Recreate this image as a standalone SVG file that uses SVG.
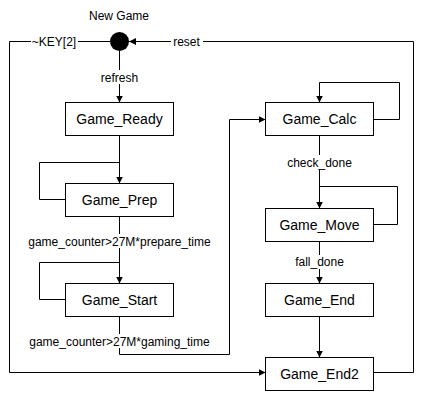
<svg xmlns="http://www.w3.org/2000/svg" width="423" height="402" viewBox="0 0 423 402">
<style>
.box{fill:#fff;stroke:#000;stroke-width:1}
.bl{font-family:"Liberation Sans",Arial,sans-serif;font-size:14px;fill:#000;text-anchor:middle}
.el{font-family:"Liberation Sans",Arial,sans-serif;font-size:12px;fill:#000;text-anchor:middle}
.e{fill:none;stroke:#000;stroke-width:1}
.lb{fill:#fff}
</style>
<defs>
<marker id="ah" viewBox="0 0 8 8" refX="7" refY="4" markerWidth="8" markerHeight="8" markerUnits="userSpaceOnUse" orient="auto">
<path d="M0,0.5 L7,4 L0,7.5 Z" fill="#000"/>
</marker>
</defs>
<rect width="423" height="402" fill="#fff"/>
<g id="connectors">
<path class="e" d="M119.5,51 V102.5" marker-end="url(#ah)"/>
<path class="e" d="M110,41.5 H9.5 V372.5 H265.5" marker-end="url(#ah)"/>
<path class="e" d="M373.5,372.5 H413.5 V41.5 H129" marker-end="url(#ah)"/>
<path class="e" d="M119.5,135.5 V183.5" marker-end="url(#ah)"/>
<path class="e" d="M65.5,199.5 H39.5 V162.5 H119.5"/>
<path class="e" d="M119.5,216.5 V283.5" marker-end="url(#ah)"/>
<path class="e" d="M65.5,299.5 H39.5 V262.5 H119.5"/>
<path class="e" d="M119.5,316.5 V354.5 H229.5 V119.5 H265.5" marker-end="url(#ah)"/>
<path class="e" d="M373.5,119.5 H399.5 V82.5 H319.5 V102.5" marker-end="url(#ah)"/>
<path class="e" d="M319.5,135.5 V208.5" marker-end="url(#ah)"/>
<path class="e" d="M373.5,224.5 H397.5 V186.5 H319.5"/>
<path class="e" d="M319.5,241.5 V283.5" marker-end="url(#ah)"/>
<path class="e" d="M319.5,316.5 V357.5" marker-end="url(#ah)"/>
<rect class="lb" x="96" y="70" width="48" height="14"/>
<text class="el" x="119.5" y="81.5">refresh</text>
<rect class="lb" x="31" y="35" width="47" height="14"/>
<text class="el" x="54" y="46">~KEY[2]</text>
<rect class="lb" x="171" y="35" width="32" height="14"/>
<text class="el" x="186.5" y="46">reset</text>
<rect class="lb" x="24" y="234" width="192" height="14"/>
<text class="el" x="119.5" y="245.5">game_counter&gt;27M*prepare_time</text>
<rect class="lb" x="24" y="334" width="192" height="14"/>
<text class="el" x="119.5" y="345.5">game_counter&gt;27M*gaming_time</text>
<rect class="lb" x="283" y="155" width="73" height="14"/>
<text class="el" x="319.5" y="166.5">check_done</text>
<rect class="lb" x="290" y="255" width="59" height="14"/>
<text class="el" x="319.5" y="266">fall_done</text>
</g>
<g id="start">
<text class="el" x="119" y="19.5">New Game</text>
<circle cx="119.5" cy="41.5" r="9.5" fill="#000"/>
</g>
<g id="Game_Ready"><rect class="box" x="65.5" y="102.5" width="108" height="33"/><text class="bl" x="119.5" y="124">Game_Ready</text></g>
<g id="Game_Prep"><rect class="box" x="65.5" y="183.5" width="108" height="33"/><text class="bl" x="119.5" y="205">Game_Prep</text></g>
<g id="Game_Start"><rect class="box" x="65.5" y="283.5" width="108" height="33"/><text class="bl" x="119.5" y="305">Game_Start</text></g>
<g id="Game_Calc"><rect class="box" x="265.5" y="102.5" width="108" height="33"/><text class="bl" x="319.5" y="124">Game_Calc</text></g>
<g id="Game_Move"><rect class="box" x="265.5" y="208.5" width="108" height="33"/><text class="bl" x="319.5" y="230">Game_Move</text></g>
<g id="Game_End"><rect class="box" x="265.5" y="283.5" width="108" height="33"/><text class="bl" x="319.5" y="305">Game_End</text></g>
<g id="Game_End2"><rect class="box" x="265.5" y="357.5" width="108" height="33"/><text class="bl" x="319.5" y="379">Game_End2</text></g>
</svg>
